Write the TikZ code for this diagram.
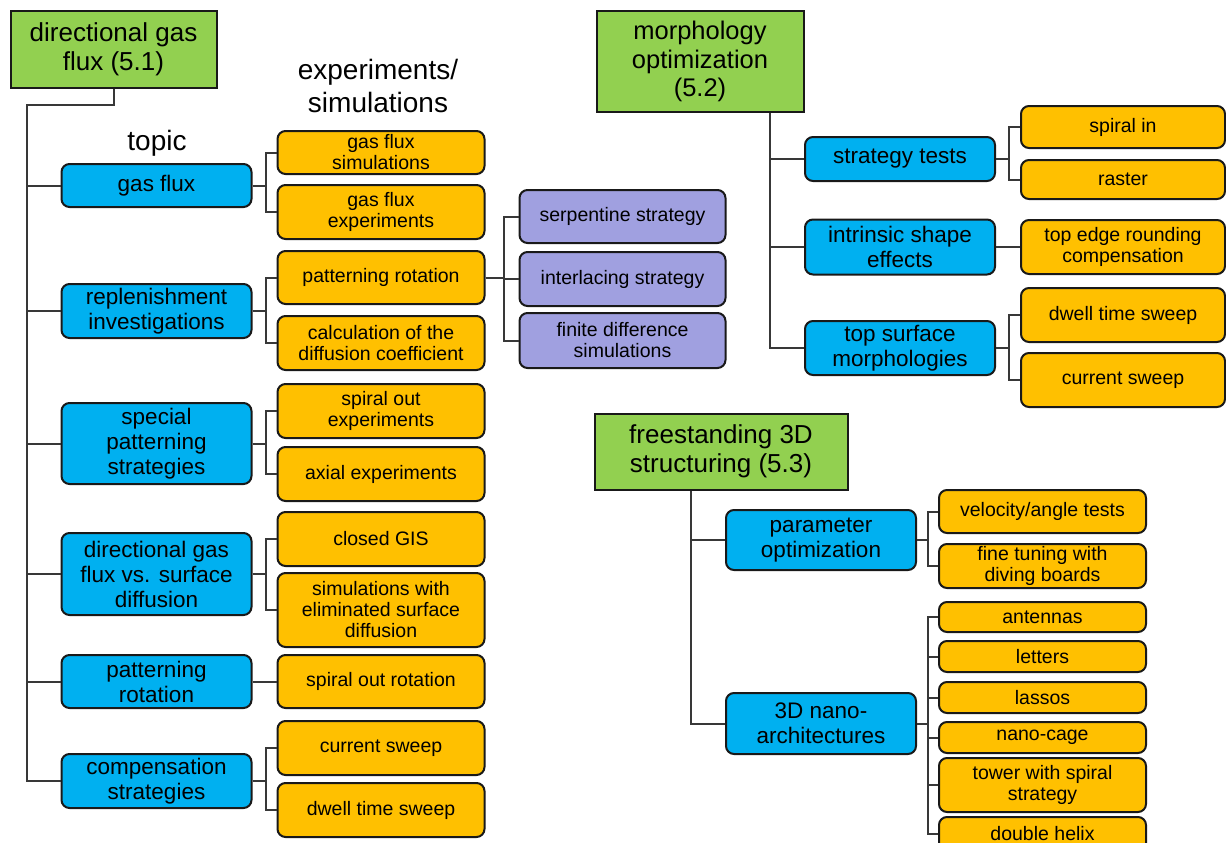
\documentclass[tikz,border=0pt]{standalone}
\usepackage{fontspec}
\setmainfont{Liberation Sans}
\usepackage{tikz}
\usetikzlibrary{calc,positioning}
\definecolor{headgreen}{HTML}{92D050}
\definecolor{topicblue}{HTML}{00B0F0}
\definecolor{experorange}{HTML}{FFC000}
\definecolor{subviolet}{HTML}{A0A0E0}
\tikzset{
  box/.style={draw=black!90, line width=2pt, align=center, inner sep=1pt, font=\fontsize{19.5}{21}\selectfont},
  head/.style={box, fill=headgreen, font=\fontsize{26}{29}\selectfont},
  topic/.style={box, rounded corners=8pt, fill=topicblue, minimum width=190pt, font=\fontsize{22.5}{25}\selectfont},
  exper/.style={box, rounded corners=8pt, fill=experorange, minimum width=207pt},
  subexp/.style={box, rounded corners=8pt, fill=subviolet, minimum width=206pt},
  conn/.style={draw=black!78, line width=2pt},
  caption/.style={font=\fontsize{28}{33}\selectfont, align=center}
}
\begin{document}
\begin{tikzpicture}[x=1pt,y=-1pt]
			\useasboundingbox (0,0) rectangle (1226,843);
			% section 5.1
			\node[head, minimum width=206pt, minimum height=76pt] (R1) at (113.5,49.5) {directional gas\\flux (5.1)};
			\node[caption] (Top) at (157,143) {topic};
			\node[caption] (Exp) at (378,86) {experiments/\\simulations};
			
			\node[topic, minimum height=43pt] (T1) at (156.5,185.5) {gas flux};
			\node[topic, minimum height=54pt] (T2) at (156.5,311) {replenishment\\investigations};
			\node[topic, minimum height=81pt] (T3) at (156.5,443.5) {special\\patterning\\strategies};
			\node[topic, minimum height=82pt] (T4) at (156.5,574) {directional gas\\flux vs. surface\\diffusion};
			\node[topic, minimum height=53pt] (T5) at (156.5,681.5) {patterning\\rotation};
			\node[topic, minimum height=54pt] (T6) at (156.5,781) {compensation\\strategies};
			
			\node[exper, minimum height=43pt] (E1) at (381,152.5) {gas flux\\simulations};
			\node[exper, minimum height=54pt] (E2) at (381,212) {gas flux\\experiments};
			\node[exper, minimum height=53pt] (E3) at (381,277.5) {patterning rotation};
			\node[exper, minimum height=54pt] (E4) at (381,343) {calculation of the\\diffusion coefficient};
			\node[exper, minimum height=54pt] (E5) at (381,411) {spiral out\\experiments};
			\node[exper, minimum height=54pt] (E6) at (381,474) {axial experiments};
			\node[exper, minimum height=54pt] (E7) at (381,539) {closed GIS};
			\node[exper, minimum height=74pt] (E8) at (381,610) {simulations with\\eliminated surface\\diffusion};
			\node[exper, minimum height=53pt] (E9) at (381,681.5) {spiral out rotation};
			\node[exper, minimum height=54pt] (E10) at (381,748) {current sweep};
			\node[exper, minimum height=54pt] (E11) at (381,810) {dwell time sweep};
			
			\node[subexp, minimum height=53pt] (S1) at (622.5,216.5) {serpentine strategy};
			\node[subexp, minimum height=54pt] (S2) at (622.5,279) {interlacing strategy};
			\node[subexp, minimum height=55pt] (S3) at (622.5,340.5) {finite difference\\simulations};
			
			\coordinate (R1trunk) at (27,105);
			\draw[conn] (R1.south) |- (R1trunk) -- (R1trunk |- T6.west) -- (T6.west);
			\draw[conn] (R1trunk |- T1.west) -- (T1.west);
			\draw[conn] (R1trunk |- T2.west) -- (T2.west);
			\draw[conn] (R1trunk |- T3.west) -- (T3.west);
			\draw[conn] (R1trunk |- T4.west) -- (T4.west);
			\draw[conn] (R1trunk |- T5.west) -- (T5.west);
			
			\draw[conn] (T1.east) -- ++(13,0) |- (E1.west);
			\draw[conn] (T1.east) -- ++(13,0) |- (E2.west);
			\draw[conn] (T2.east) -- ++(13,0) |- (E3.west);
			\draw[conn] (T2.east) -- ++(13,0) |- (E4.west);
			\draw[conn] (T3.east) -- ++(13,0) |- (E5.west);
			\draw[conn] (T3.east) -- ++(13,0) |- (E6.west);
			\draw[conn] (T4.east) -- ++(13,0) |- (E7.west);
			\draw[conn] (T4.east) -- ++(13,0) |- (E8.west);
			\draw[conn] (T5.east) -- (E9.west);
			\draw[conn] (T6.east) -- ++(13,0) |- (E10.west);
			\draw[conn] (T6.east) -- ++(13,0) |- (E11.west);
			
			\draw[conn] (E3.east) -- ++(18,0) |- (S1.west);
			\draw[conn] (E3.east) -- ++(18,0) |- (S2.west);
			\draw[conn] (E3.east) -- ++(18,0) |- (S3.west);
			
			% section 5.2
			\node[head, minimum width=207pt, minimum height=100pt, font=\fontsize{25.5}{28.5}\selectfont] (R2) at (700,61.5) {morphology\\optimization\\(5.2)};
			
			\node[topic, minimum height=44pt] (B1) at (900,159) {strategy tests};
			\node[topic, minimum height=55pt] (B2) at (900,247) {intrinsic shape\\effects};
			\node[topic, minimum height=54pt] (B3) at (900,348) {top surface\\morphologies};
			
			\node[exper, minimum width=204pt, minimum height=42pt] (O1) at (1123,127) {spiral in};
			\node[exper, minimum width=204pt, minimum height=39pt] (O2) at (1123,179.5) {raster};
			\node[exper, minimum width=204pt, minimum height=54pt] (O3) at (1123,247) {top edge rounding\\compensation};
			\node[exper, minimum width=204pt, minimum height=54pt] (O4) at (1123,315) {dwell time sweep};
			\node[exper, minimum width=204pt, minimum height=54pt] (O5) at (1123,380) {current sweep};
			
			\coordinate (R2trunk) at (770,112);
			\draw[conn] (R2.south -| R2trunk) -- (R2trunk |- B3.west) -- (B3.west);
			\draw[conn] (R2trunk |- B1.west) -- (B1.west);
			\draw[conn] (R2trunk |- B2.west) -- (B2.west);
			
			\draw[conn] (B1.east) -- ++(13,0) |- (O1.west);
			\draw[conn] (B1.east) -- ++(13,0) |- (O2.west);
			\draw[conn] (B2.east) -- (O3.west);
			\draw[conn] (B3.east) -- ++(13,0) |- (O4.west);
			\draw[conn] (B3.east) -- ++(13,0) |- (O5.west);
			
			% section 5.3
			\node[head, minimum width=253pt, minimum height=76pt] (R3) at (721,451.5) {freestanding 3D\\structuring (5.3)};
			
			\node[topic, minimum height=60pt] (P1) at (821,540) {parameter\\optimization};
			\node[topic, minimum height=61pt] (P2) at (821,723.5) {3D nano-\\architectures};
			
			\node[exper, minimum height=43pt] (Q1) at (1042.5,511.5) {velocity/angle tests};
			\node[exper, minimum height=44pt] (Q2) at (1042.5,566) {fine tuning with\\diving boards};
			\node[exper, minimum height=30pt] (Q3) at (1042.5,617) {antennas};
			\node[exper, minimum height=31pt] (Q4) at (1042.5,656.5) {letters};
			\node[exper, minimum height=31pt] (Q5) at (1042.5,697.5) {lassos};
			\node[exper, minimum height=31pt] (Q6) at (1042.5,737.5) {nano-cage};
			\node[exper, minimum height=54pt] (Q7) at (1042.5,785) {tower with spiral\\strategy};
			\node[exper, minimum height=34pt] (Q8) at (1042.5,834) {double helix};
			
			\coordinate (R3trunk) at (691,490);
			\draw[conn] (R3.south -| R3trunk) -- (R3trunk |- P2.west) -- (P2.west);
			\draw[conn] (R3trunk |- P1.west) -- (P1.west);
			
			\draw[conn] (P1.east) -- ++(11,0) |- (Q1.west);
			\draw[conn] (P1.east) -- ++(11,0) |- (Q2.west);
			\draw[conn] (P2.east) -- ++(11,0) |- (Q3.west);
			\draw[conn] (P2.east) -- ++(11,0) |- (Q4.west);
			\draw[conn] (P2.east) -- ++(11,0) |- (Q5.west);
			\draw[conn] (P2.east) -- ++(11,0) |- (Q6.west);
			\draw[conn] (P2.east) -- ++(11,0) |- (Q7.west);
			\draw[conn] (P2.east) -- ++(11,0) |- (Q8.west);
		\end{tikzpicture}
\end{document}
